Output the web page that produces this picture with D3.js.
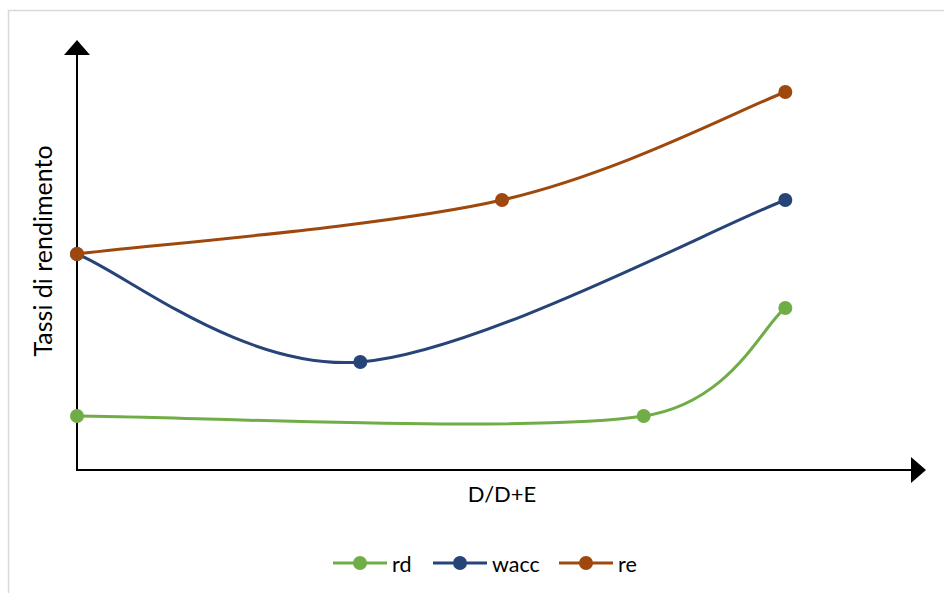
<!DOCTYPE html>
<html><head><meta charset="utf-8">
<script src="https://cdn.jsdelivr.net/npm/d3@7"></script>
<style>body{margin:0;background:#fff}svg{display:block}text{font-family:Lato,"Open Sans",sans-serif;fill:#000}</style>
</head><body><svg id="c" width="944" height="593"></svg>
<script>
const seriesNames = ["rd", "wacc", "re"];
const seriesColors = ["#70AD47", "#264478", "#9E480E"];
const rdX = [0, 4, 5];
const rdY = [1, 1, 3];
const waccX = [0, 2, 5];
const waccY = [4, 2, 5];
const reX = [0, 3, 5];
const reY = [4, 5, 7];
const xTitle = "D/D+E";
const yTitle = "Tassi di rendimento";

const svg = d3.select("#c");
svg.append("rect").attr("x", 8.5).attr("y", 10.5).attr("width", 960).attr("height", 620)
  .attr("fill", "none").attr("stroke", "#d9d9d9").attr("stroke-width", 1.5);

const x = d3.scaleLinear().domain([0, 6]).range([77, 927]);
const y = d3.scaleLinear().domain([0, 8]).range([470, 38]);

// axes
svg.append("line").attr("x1", x(0)).attr("x2", 912).attr("y1", y(0)).attr("y2", y(0)).attr("stroke", "#000").attr("stroke-width", 2);
svg.append("line").attr("x1", x(0)).attr("x2", x(0)).attr("y1", y(0) + 1).attr("y2", 54).attr("stroke", "#000").attr("stroke-width", 2);
svg.append("path").attr("d", `M${x(0)},40 L${x(0) - 13},55 L${x(0) + 13},55 Z`).attr("fill", "#000");
svg.append("path").attr("d", `M926,${y(0)} L911,${y(0) - 13} L911,${y(0) + 13} Z`).attr("fill", "#000");

const data = [
  rdX.map((v, i) => [v, rdY[i]]),
  waccX.map((v, i) => [v, waccY[i]]),
  reX.map((v, i) => [v, reY[i]])
];

// Excel-style smoothed line (Bezier with 1/6 tension, limited to half segment)
function smoothPath(pts) {
  const p = pts.map(d => [x(d[0]), y(d[1])]);
  const path = d3.path();
  path.moveTo(p[0][0], p[0][1]);
  const dist = (a, b) => Math.hypot(a[0] - b[0], a[1] - b[1]);
  for (let i = 0; i < p.length - 1; i++) {
    const p0 = p[Math.max(0, i - 1)], p1 = p[i], p2 = p[i + 1], p3 = p[Math.min(p.length - 1, i + 2)];
    const d12 = dist(p1, p2), d02 = dist(p0, p2), d13 = dist(p1, p3);
    const f = d02 > 0 ? Math.min(1 / 6, d12 / (2 * d02)) : 0;
    const g = d13 > 0 ? Math.min(1 / 6, d12 / (2 * d13)) : 0;
    const c1 = [p1[0] + (p2[0] - p0[0]) * f, p1[1] + (p2[1] - p0[1]) * f];
    const c2 = [p2[0] - (p3[0] - p1[0]) * g, p2[1] - (p3[1] - p1[1]) * g];
    path.bezierCurveTo(c1[0], c1[1], c2[0], c2[1], p2[0], p2[1]);
  }
  return path.toString();
}

data.forEach((pts, i) => {
  svg.append("path").attr("d", smoothPath(pts)).attr("fill", "none").attr("stroke", seriesColors[i]).attr("stroke-width", 3);
});
data.forEach((pts, i) => {
  svg.selectAll(null).data(pts).enter().append("circle")
    .attr("cx", d => x(d[0])).attr("cy", d => y(d[1])).attr("r", 7).attr("fill", seriesColors[i]);
});

svg.append("text").attr("x", 502).attr("y", 502).attr("text-anchor", "middle").attr("font-size", 22).text(xTitle);
svg.append("text").attr("transform", "translate(52,251) rotate(-90)").attr("text-anchor", "middle").attr("font-size", 25).text(yTitle);

const legX = [333, 433, 559];
seriesNames.forEach((n, i) => {
  const g = svg.append("g").attr("transform", `translate(${legX[i]},563)`);
  g.append("line").attr("x1", 0).attr("x2", 54).attr("stroke", seriesColors[i]).attr("stroke-width", 3);
  g.append("circle").attr("cx", 27).attr("r", 7).attr("fill", seriesColors[i]);
  g.append("text").attr("x", 59).attr("y", 9).attr("font-size", 21.5).text(n);
});
</script></body></html>
